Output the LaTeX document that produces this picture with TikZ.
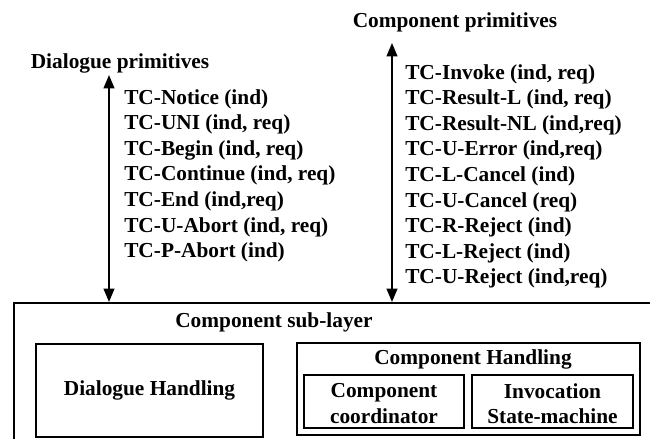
\documentclass[tikz,border=0pt]{standalone}
\usepackage{fontspec}
\setmainfont{Liberation Serif}
\usetikzlibrary{arrows.meta,fit}

\begin{document}
\begin{tikzpicture}[x=0.75pt,y=-0.75pt,
    font=\fontsize{16}{19.2}\selectfont\bfseries,
    box/.style={draw,line width=1.5pt,inner sep=0pt},
    lbl/.style={inner sep=0pt},
    prim/.style={inner sep=0pt,align=left,anchor=north west},
    updown/.style={{Triangle[width=8pt,length=10pt]}-{Triangle[width=8pt,length=10pt]},line width=1.5pt}]
    \clip (0,0) rectangle (650,439);
    % primitives
    \node[lbl] (dtitle) at (120,63) {Dialogue primitives};
    \node[lbl] (ctitle) at (455,22) {Component primitives};
    \node[prim] (dlist) at (124,89) {TC-Notice (ind)\\TC-UNI (ind, req)\\TC-Begin (ind, req)\\
      TC-Continue (ind, req)\\TC-End (ind,req)\\TC-U-Abort (ind, req)\\TC-P-Abort (ind)};
    \node[prim] (clist) at (405,64) {TC-Invoke (ind, req)\\TC-Result-L (ind, req)\\
      TC-Result-NL (ind,req)\\TC-U-Error (ind,req)\\TC-L-Cancel (ind)\\TC-U-Cancel (req)\\
      TC-R-Reject (ind)\\TC-L-Reject (ind)\\TC-U-Reject (ind,req)};
    % sub-layer
    \node[box,fit={(14,303) (668,460)}] (sublayer) {};
    \node[lbl] (sublbl) at (274,322) {Component sub-layer};
    \node[box,fit={(36,344) (263,437)}] (dlg) {};
    \node[lbl] (dlglbl) at (dlg.center) {Dialogue Handling};
    \node[box,fit={(297,343) (640,435)}] (ch) {};
    \node[lbl] (chlbl) at (473,359) {Component Handling};
    \node[box,fit={(304,375) (464,428)}] (cc) {};
    \node[lbl,align=center,yshift=-1.5pt] (cclbl) at (cc.center) {Component\\coordinator};
    \node[box,fit={(472,375) (633,428)}] (ism) {};
    \node[lbl,align=center,yshift=-1.5pt] (ismlbl) at (ism.center) {Invocation\\State-machine};
    % arrows
    \coordinate (dtip) at (109,75);
    \coordinate (ctip) at (392,43);
    \draw[updown] (dtip) -- (dtip |- sublayer.north);
    \draw[updown] (ctip) -- (ctip |- sublayer.north);
\end{tikzpicture}
\end{document}
